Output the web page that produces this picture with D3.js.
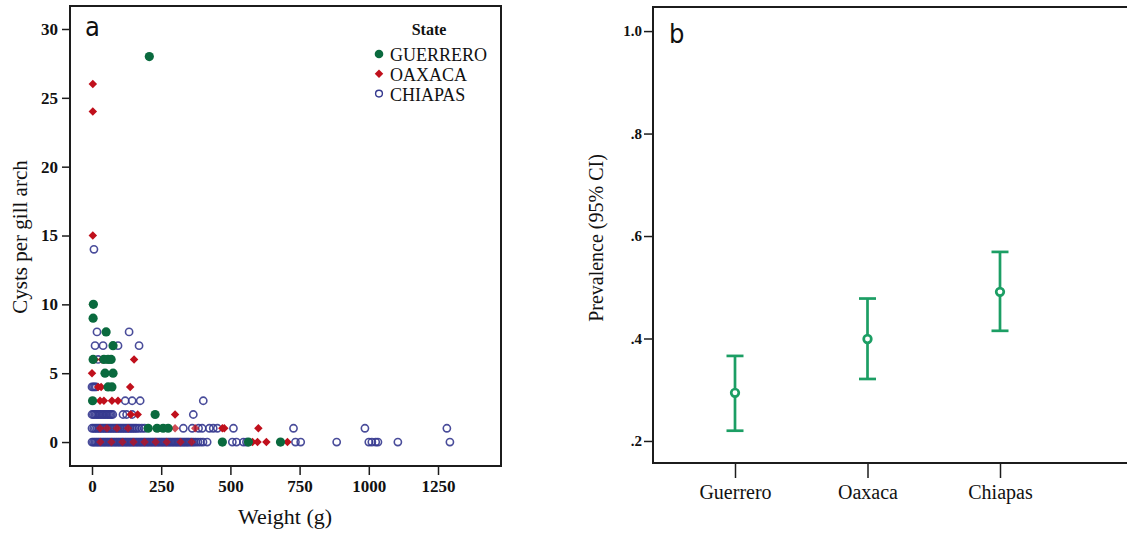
<!DOCTYPE html>
<html>
<head>
<meta charset="utf-8">
<title>Cysts per gill arch and prevalence by state</title>
<style>
body { margin: 0; background: #fff; }
svg text { font-family: "Liberation Serif", "Times New Roman", serif; fill: #111; }
.frame { fill: none; stroke: #1c1c1c; stroke-width: 2px; }
.axis path { display: none; }
.axis line { stroke: #1c1c1c; stroke-width: 1.5px; }
.axis text { font-family: "Liberation Serif", "Times New Roman", serif; font-weight: bold; }
.tag { font-family: "Liberation Sans Narrow", "DejaVu Sans Condensed", "Liberation Sans", sans-serif; font-size: 27px; }
</style>
</head>
<body>
<svg width="1127" height="534"></svg>
<script src="https://d3js.org/d3.v7.min.js"></script>
<script>

// panel a : [weight (g), cysts per gill arch]
var guerrero = [
  [207,28],[5,10],[4,9],[51,8],[76,7],
  [4,6],[43,6],[58,6],[69,6],[47,5],[76,5],
  [58,4],[72,4],[2,3],[228,2],
  [203,1],[235,1],[257,1],[275,1],
  [471,0],[565,0],[681,0]
];
var oaxaca = [
  [3,26],[3,24],[3,15],[3,10],
  [10,6],[36,6],[51,6],[152,6],[0,5],
  [22,4],[33,4],[138,4],
  [29,3],[43,3],[72,3],[94,3],
  [140,2],[165,2],[300,2],
  [29,1],[54,1],[90,1],[130,1],[240,1],[300,1],[373,1],[471,1],[478,1],[601,1],
  [30,0],[70,0],[110,0],[150,0],[190,0],[230,0],[270,0],[320,0],[360,0],
  [580,0],[598,0],[630,0],[706,0]
];
var chiapas = [
  [7,14],[18,8],[134,8],
  [11,7],[40,7],[94,7],[170,7],[22,6],
  [0,4],[5,4],[10,4],[15,4],
  [120,3],[145,3],[174,3],[402,3],
  [0,2],[5,2],[10,2],[15,2],[20,2],[25,2],[30,2],[35,2],[40,2],[45,2],[50,2],
  [55,2],[60,2],[65,2],[70,2],[75,2],[112,2],[125,2],[145,2],[366,2],
  [0,1],[6,1],[12,1],[18,1],[24,1],[30,1],[36,1],[42,1],[48,1],[54,1],[60,1],
  [66,1],[72,1],[78,1],[84,1],[90,1],[96,1],[102,1],[108,1],[114,1],[120,1],
  [126,1],[132,1],[138,1],[144,1],[150,1],[156,1],[162,1],[170,1],[180,1],
  [190,1],[330,1],[362,1],[385,1],[398,1],
  [424,1],[438,1],[453,1],[511,1],[728,1],[986,1],[1282,1],
  [0,0],[5,0],[10,0],[15,0],[20,0],[25,0],[30,0],[35,0],[40,0],[45,0],
  [50,0],[55,0],[60,0],[65,0],[70,0],[75,0],[80,0],[85,0],[90,0],[95,0],
  [100,0],[105,0],[110,0],[115,0],[120,0],[125,0],[130,0],[135,0],[140,0],
  [145,0],[150,0],[155,0],[160,0],[165,0],[170,0],[175,0],[180,0],[185,0],
  [190,0],[195,0],[200,0],[205,0],[210,0],[215,0],[220,0],[225,0],[230,0],
  [235,0],[240,0],[245,0],[250,0],[255,0],[260,0],[265,0],[270,0],[275,0],
  [280,0],[285,0],[290,0],[295,0],[300,0],[305,0],[310,0],[315,0],[320,0],
  [325,0],[330,0],[335,0],[340,0],[345,0],[350,0],[356,0],[362,0],[368,0],
  [375,0],[383,0],[392,0],[401,0],[416,0],
  [507,0],[522,0],[547,0],[558,0],[735,0],[754,0],[884,0],
  [1000,0],[1011,0],[1025,0],[1033,0],[1105,0],[1293,0]
];
var weightTicks = [0, 250, 500, 750, 1000, 1250];
var cystTicks = [0, 5, 10, 15, 20, 25, 30];

// panel b : prevalence with 95% CI
var states = ["Guerrero", "Oaxaca", "Chiapas"];
var prevMean = [0.294, 0.399, 0.491];
var prevLow = [0.220, 0.321, 0.415];
var prevHigh = [0.366, 0.478, 0.569];
var prevTicks = [0.2, 0.4, 0.6, 0.8, 1.0];

var green = "#0a6a3e", red = "#c0101c", navy = "#35398f", ciGreen = "#1c9e64";

var svg = d3.select("svg");

// ---------- panel a
var boxA = {left: 70, top: 6, right: 501, bottom: 466};

var x = d3.scaleLinear().domain([-79.5, 1477.6]).range([boxA.left, boxA.right]),
    y = d3.scaleLinear().domain([-1.74, 31.67]).range([boxA.bottom, boxA.top]);

svg.append("g")
    .attr("class", "axis")
    .attr("transform", "translate(" + boxA.left + ",0)")
    .style("font-size", "17px")
    .call(d3.axisLeft(y).tickValues(cystTicks).tickSize(8).tickPadding(4));

svg.append("g")
    .attr("class", "axis")
    .attr("transform", "translate(0," + boxA.bottom + ")")
    .style("font-size", "17px")
    .call(d3.axisBottom(x).tickValues(weightTicks).tickSize(9).tickPadding(5).tickFormat(d3.format("d")));

var diamond = d3.symbol().type(d3.symbolDiamond2).size(46);

// chiapas first so the filled markers show through the dense rows
svg.append("g").selectAll("circle")
    .data(chiapas)
  .enter().append("circle")
    .attr("cx", function(d) { return x(d[0]); })
    .attr("cy", function(d) { return y(d[1]); })
    .attr("r", 3.6)
    .style("fill", "none")
    .style("stroke", navy)
    .style("stroke-opacity", 0.9)
    .style("stroke-width", 1.6);

svg.append("g").selectAll("path")
    .data(oaxaca)
  .enter().append("path")
    .attr("d", diamond)
    .attr("transform", function(d) { return "translate(" + x(d[0]) + "," + y(d[1]) + ")"; })
    .style("fill", red)
    .style("fill-opacity", function(d) { return d[1] <= 1 && d[0] < 400 ? 0.75 : 1; });

svg.append("g").selectAll("circle")
    .data(guerrero)
  .enter().append("circle")
    .attr("cx", function(d) { return x(d[0]); })
    .attr("cy", function(d) { return y(d[1]); })
    .attr("r", 4.6)
    .style("fill", green);

svg.append("rect")
    .attr("class", "frame")
    .attr("x", boxA.left).attr("y", boxA.top)
    .attr("width", boxA.right - boxA.left)
    .attr("height", boxA.bottom - boxA.top);

svg.append("text").attr("class", "tag").attr("x", 85).attr("y", 36).text("a");

// legend
var legend = svg.append("g");
legend.append("text")
    .attr("x", 429).attr("y", 35)
    .attr("text-anchor", "middle")
    .style("font-weight", "bold").style("font-size", "16px")
    .text("State");
["GUERRERO", "OAXACA", "CHIAPAS"].forEach(function(name, i) {
  var ly = 54 + i * 19.8;
  if (i == 0) legend.append("circle").attr("cx", 379).attr("cy", ly).attr("r", 4.3).style("fill", green);
  if (i == 1) legend.append("path").attr("d", diamond).attr("transform", "translate(379," + ly + ")").style("fill", red);
  if (i == 2) legend.append("circle").attr("cx", 379).attr("cy", ly).attr("r", 3.4)
      .style("fill", "none").style("stroke", navy).style("stroke-width", 1.4);
  legend.append("text")
      .attr("x", 390).attr("y", ly + 7)
      .style("font-size", "18px")
      .text(name);
});

svg.append("text")
    .attr("transform", "translate(27,237) rotate(-90)")
    .attr("text-anchor", "middle")
    .style("font-size", "21px")
    .text("Cysts per gill arch");

svg.append("text")
    .attr("x", 285).attr("y", 524)
    .attr("text-anchor", "middle")
    .style("font-size", "22px")
    .text("Weight (g)");

// ---------- panel b
var boxB = {left: 653, top: 7, right: 1160, bottom: 463};

var xb = d3.scalePoint().domain(states).range([735, 1000]),
    yb = d3.scaleLinear().domain([0.157, 1.047]).range([boxB.bottom, boxB.top]);

svg.append("g")
    .attr("class", "axis")
    .attr("transform", "translate(" + boxB.left + ",0)")
    .style("font-size", "15px")
    .call(d3.axisLeft(yb).tickValues(prevTicks).tickSize(9).tickPadding(2)
      .tickFormat(function(d) { return d == 1 ? "1.0" : d3.format(".1f")(d).replace(/^0/, ""); }));

svg.append("g")
    .attr("class", "axis")
    .attr("transform", "translate(0," + boxB.bottom + ")")
    .style("font-size", "20px")
    .call(d3.axisBottom(xb).tickSize(15).tickPadding(7))
    .selectAll("text").style("font-weight", "normal");

var bars = svg.append("g").selectAll("g")
    .data(states)
  .enter().append("g")
    .style("stroke", ciGreen)
    .style("stroke-width", 2.7);

bars.append("line")
    .attr("x1", function(d) { return xb(d); })
    .attr("x2", function(d) { return xb(d); })
    .attr("y1", function(d, i) { return yb(prevLow[i]); })
    .attr("y2", function(d, i) { return yb(prevHigh[i]); });
bars.append("line")
    .attr("x1", function(d) { return xb(d) - 8.5; })
    .attr("x2", function(d) { return xb(d) + 8.5; })
    .attr("y1", function(d, i) { return yb(prevHigh[i]); })
    .attr("y2", function(d, i) { return yb(prevHigh[i]); });
bars.append("line")
    .attr("x1", function(d) { return xb(d) - 8.5; })
    .attr("x2", function(d) { return xb(d) + 8.5; })
    .attr("y1", function(d, i) { return yb(prevLow[i]); })
    .attr("y2", function(d, i) { return yb(prevLow[i]); });
bars.append("circle")
    .attr("cx", function(d) { return xb(d); })
    .attr("cy", function(d, i) { return yb(prevMean[i]); })
    .attr("r", 3.8)
    .style("fill", "#fff");

svg.append("rect")
    .attr("class", "frame")
    .attr("x", boxB.left).attr("y", boxB.top)
    .attr("width", boxB.right - boxB.left)
    .attr("height", boxB.bottom - boxB.top);

svg.append("text").attr("class", "tag").attr("x", 669).attr("y", 43).text("b");

svg.append("text")
    .attr("transform", "translate(603,238) rotate(-90)")
    .attr("text-anchor", "middle")
    .style("font-size", "20px")
    .text("Prevalence (95% CI)");

</script>
</body>
</html>
